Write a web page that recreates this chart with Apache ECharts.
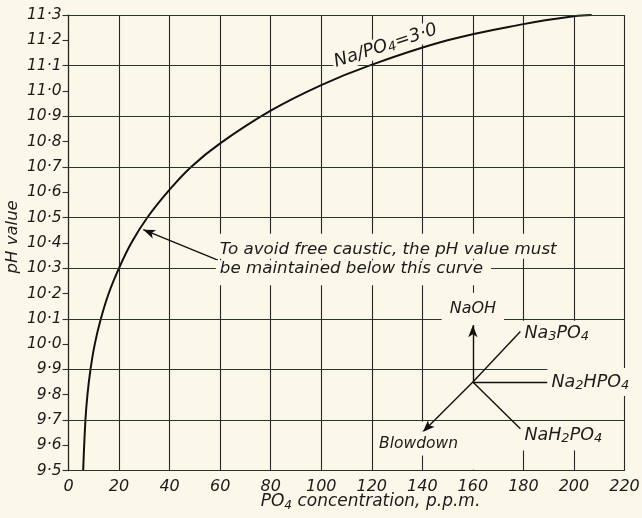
<!DOCTYPE html>
<html>
<head>
<meta charset="utf-8">
<script src="https://cdn.jsdelivr.net/npm/echarts@6/dist/echarts.min.js"></script>
<style>
html,body{margin:0;padding:0;background:#fbf7e9;}
#chart{width:642px;height:518px;}
</style>
</head>
<body>
<div id="chart"></div>
<script>
// ---- data ----
const xTickLabels = ['0','20','40','60','80','100','120','140','160','180','200','220'];
const yTickLabels = ['9·5','9·6','9·7','9·8','9·9','10·0','10·1','10·2','10·3','10·4','10·5','10·6','10·7','10·8','10·9','11·0','11·1','11·2','11·3'];
const hGridPH = [9.5, 9.7, 9.9, 10.1, 10.3, 10.5, 10.7, 10.9, 11.1, 11.3];
const curvePO4 = [5.8, 6.7, 7.5, 8.7, 10.4, 12.8, 15.9, 20.0, 24.9, 31.2, 40, 48.5, 60, 80, 100, 119, 150, 180, 200, 207];
const curvePH  = [9.5, 9.7, 9.8, 9.9, 10.0, 10.1, 10.2, 10.3, 10.4, 10.5, 10.61, 10.7, 10.793, 10.922, 11.023, 11.1, 11.2, 11.264, 11.295, 11.3];
const vecCenter = [160, 9.85];
const vecNames = ['NaOH', 'Na3PO4', 'Na2HPO4', 'NaH2PO4', 'Blowdown'];
const vecEndPO4 = [160, 178.8, 189.6, 178.8, 140.2];
const vecEndPH  = [10.075, 10.05, 9.85, 9.666, 9.653];
const vecArrow  = [true, false, false, false, true];

// ---- style ----
const paper = '#fbf7e9';
const ink = '#1b1b1b';
const vColor = '#262626';
const hColor = '#26382c';
const ff = '"DejaVu Sans", sans-serif';
const txt = {fontFamily: ff, fontStyle: 'italic', color: ink};

function richLabel(size, subSize, subPad) {
  return {
    a: Object.assign({}, txt, {fontSize: size}),
    s: Object.assign({}, txt, {fontSize: subSize, padding: [subPad, 0, 0, 0]})
  };
}

const arrowLines = [], plainLines = [];
vecNames.forEach((n, i) => {
  const seg = [{coord: vecCenter}, {coord: [vecEndPO4[i], vecEndPH[i]]}];
  (vecArrow[i] ? arrowLines : plainLines).push(seg);
});
// annotation arrow pointing to curve
arrowLines.push([{coord: [59.1, 10.332]}, {coord: [29.6, 10.452]}]);

function mp(coord, text, opts) {
  return {
    coord: coord, symbol: 'circle', symbolSize: 0,
    label: Object.assign({
      show: true, position: 'inside', formatter: text,
      backgroundColor: paper, padding: [3, 6],
      rich: richLabel(16, 12, 7), fontFamily: ff, fontStyle: 'italic', fontSize: 16, color: ink
    }, opts || {})
  };
}

const option = {
  backgroundColor: paper,
  animation: false,
  grid: {left: 68.5, right: 17.5, top: 15, bottom: 47.3, containLabel: false, outerBoundsMode: 'none'},
  xAxis: {
    type: 'value', min: 0, max: 220, interval: 20,
    axisLine: {show: true, lineStyle: {color: hColor, width: 1.2}},
    axisTick: {show: false},
    axisLabel: Object.assign({margin: 8, fontSize: 16, formatter: v => xTickLabels[Math.round(v / 20)]}, txt),
    splitLine: {show: true, lineStyle: {color: vColor, width: 1.1}},
    name: '{a|PO}{s|4}{a| concentration, p.p.m.}',
    nameLocation: 'middle', nameGap: 21, nameMoveOverlap: false,
    nameTextStyle: {rich: richLabel(17, 12, 8), padding: [0, 0, 0, 48]}
  },
  yAxis: {
    type: 'value', min: 9.5, max: 11.3, interval: 0.1,
    axisLine: {show: true, lineStyle: {color: vColor, width: 1.2}},
    axisTick: {show: true, inside: false, length: 6, lineStyle: {color: hColor, width: 1.1}},
    axisLabel: Object.assign({margin: 7, fontSize: 15.5, formatter: v => yTickLabels[Math.round((v - 9.5) * 10)]}, txt),
    splitLine: {show: false},
    name: 'pH value', nameLocation: 'middle', nameRotate: 90, nameGap: 47, nameMoveOverlap: false,
    nameTextStyle: Object.assign({fontSize: 16.5, padding: [0, 0, 0, 12]}, txt)
  },
  series: [
    { // horizontal grid lines (every 0.2)
      type: 'line', data: [], z: 1, silent: true,
      markLine: {
        silent: true, symbol: 'none', animation: false,
        label: {show: false},
        lineStyle: {color: hColor, width: 1.1, type: 'solid'},
        data: hGridPH.map(v => ({yAxis: v}))
      }
    },
    { // blank paper around the reaction diagram
      type: 'line', data: [], z: 2, silent: true,
      markArea: {
        silent: true,
        itemStyle: {color: paper, opacity: 1},
        data: [
          [{coord: [143, 9.58]}, {coord: [203, 10.092]}],
          [{coord: [203, 9.722]}, {coord: [219.4, 10.092]}],
          [{coord: [138.5, 9.6]}, {coord: [143.5, 9.694]}],
          [{coord: [158, 9.504]}, {coord: [162, 9.6]}]
        ]
      }
    },
    { // text annotations
      type: 'scatter', data: [], z: 3, silent: true,
      markPoint: {
        silent: true, animation: false,
        data: [
          mp([125.5, 11.178], '{a|Na/PO}{s|4}{a|=3·0}', {rotate: 18, padding: [0, 2], rich: richLabel(18, 13, 7)}),
          mp([58.3, 10.387], 'To avoid free caustic, the pH value must', {align: 'left', padding: [8, 6, 0, 4], fontSize: 16.7}),
          mp([58.3, 10.282], 'be maintained below this curve', {align: 'left', padding: [0, 8, 8, 4], fontSize: 16.7}),
          mp([160, 10.14], 'NaOH', {padding: [8, 8]}),
          mp([179.2, 10.043], '{a|Na}{s|3}{a|PO}{s|4}', {align: 'left', padding: [2, 3], rich: richLabel(17.5, 13, 7)}),
          mp([189.5, 9.85], '{a|Na}{s|2}{a|HPO}{s|4}', {align: 'left', padding: [4, 4], rich: richLabel(17.5, 13, 7)}),
          mp([179.2, 9.64], '{a|NaH}{s|2}{a|PO}{s|4}', {align: 'left', padding: [4, 3], rich: richLabel(17.5, 13, 7)}),
          mp([138.5, 9.607], 'Blowdown', {padding: [4, 4], fontSize: 15.5})
        ]
      }
    },
    { // curve
      type: 'line', z: 4, silent: true, symbol: 'none',
      smooth: 0.4,
      lineStyle: {color: '#111', width: 2},
      data: curvePO4.map((x, i) => [x, curvePH[i]])
    },
    { // arrows
      type: 'line', data: [], z: 5, silent: true,
      markLine: {
        silent: true, animation: false,
        symbol: ['none', 'arrow'], symbolSize: [7, 12],
        label: {show: false},
        lineStyle: {color: '#111', width: 1.4, type: 'solid'},
        data: arrowLines
      }
    },
    { // plain diagram lines
      type: 'line', data: [], z: 5, silent: true,
      markLine: {
        silent: true, animation: false, symbol: 'none',
        label: {show: false},
        lineStyle: {color: '#111', width: 1.4, type: 'solid'},
        data: plainLines
      }
    }
  ]
};

const chart = echarts.init(document.getElementById('chart'), null, {renderer: 'canvas'});
chart.setOption(option);
</script>
</body>
</html>
